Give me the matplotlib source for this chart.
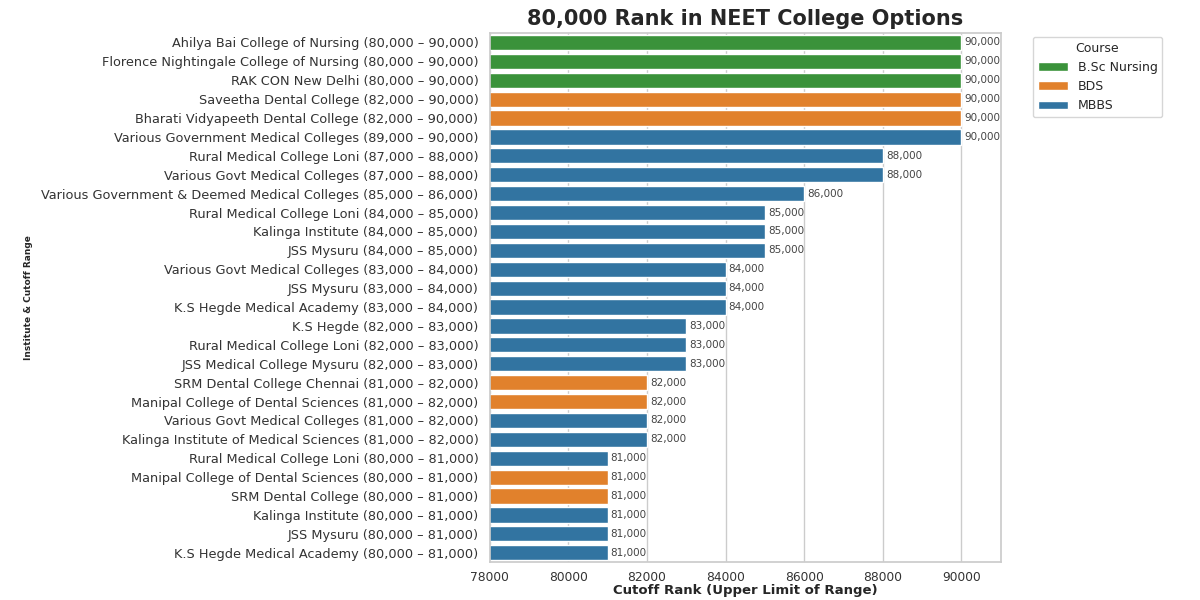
import matplotlib
matplotlib.use("Agg")
import matplotlib.pyplot as plt
import seaborn as sns
import pandas as pd

institutes = [
    "Ahilya Bai College of Nursing (80,000 – 90,000)",
    "Florence Nightingale College of Nursing (80,000 – 90,000)",
    "RAK CON New Delhi (80,000 – 90,000)",
    "Saveetha Dental College (82,000 – 90,000)",
    "Bharati Vidyapeeth Dental College (82,000 – 90,000)",
    "Various Government Medical Colleges (89,000 – 90,000)",
    "Rural Medical College Loni (87,000 – 88,000)",
    "Various Govt Medical Colleges (87,000 – 88,000)",
    "Various Government & Deemed Medical Colleges (85,000 – 86,000)",
    "Rural Medical College Loni (84,000 – 85,000)",
    "Kalinga Institute (84,000 – 85,000)",
    "JSS Mysuru (84,000 – 85,000)",
    "Various Govt Medical Colleges (83,000 – 84,000)",
    "JSS Mysuru (83,000 – 84,000)",
    "K.S Hegde Medical Academy (83,000 – 84,000)",
    "K.S Hegde (82,000 – 83,000)",
    "Rural Medical College Loni (82,000 – 83,000)",
    "JSS Medical College Mysuru (82,000 – 83,000)",
    "SRM Dental College Chennai (81,000 – 82,000)",
    "Manipal College of Dental Sciences (81,000 – 82,000)",
    "Various Govt Medical Colleges (81,000 – 82,000)",
    "Kalinga Institute of Medical Sciences (81,000 – 82,000)",
    "Rural Medical College Loni (80,000 – 81,000)",
    "Manipal College of Dental Sciences (80,000 – 81,000)",
    "SRM Dental College (80,000 – 81,000)",
    "Kalinga Institute (80,000 – 81,000)",
    "JSS Mysuru (80,000 – 81,000)",
    "K.S Hegde Medical Academy (80,000 – 81,000)",
]
cutoffs = [90000, 90000, 90000, 90000, 90000, 90000, 88000, 88000, 86000,
           85000, 85000, 85000, 84000, 84000, 84000, 83000, 83000, 83000,
           82000, 82000, 82000, 82000, 81000, 81000, 81000, 81000, 81000, 81000]
courses = ["B.Sc Nursing", "B.Sc Nursing", "B.Sc Nursing", "BDS", "BDS", "MBBS",
           "MBBS", "MBBS", "MBBS", "MBBS", "MBBS", "MBBS", "MBBS", "MBBS", "MBBS",
           "MBBS", "MBBS", "MBBS", "BDS", "BDS", "MBBS", "MBBS", "MBBS", "BDS",
           "BDS", "MBBS", "MBBS", "MBBS"]
course_order = ["B.Sc Nursing", "BDS", "MBBS"]
palette = {"B.Sc Nursing": "#2ca02c", "BDS": "#ff7f0e", "MBBS": "#1f77b4"}

df = pd.DataFrame({"Institute": institutes, "Cutoff": cutoffs, "Course": courses})

sns.set_theme(style="whitegrid")
plt.rcParams['font.family'] = ['DejaVu Sans']

fig = plt.figure(figsize=(12, 6), dpi=100)
ax = fig.add_axes([0.408, 0.063, 0.426, 0.882])

sns.barplot(data=df, y="Institute", x="Cutoff", hue="Course", hue_order=course_order,
            palette=palette, dodge=False, ax=ax, width=0.8, saturation=0.75)

for i, v in enumerate(cutoffs):
    ax.text(v + 80, i, f"{v:,}", va="center", ha="left", fontsize=7.5, color="#444444")

ax.set_xlim(78000, 91000)
ax.set_xticks([78000, 80000, 82000, 84000, 86000, 88000, 90000])
ax.tick_params(axis="x", labelsize=8.8, pad=0.5, labelcolor="#333333")
ax.tick_params(axis="y", labelsize=9.3, pad=2, labelcolor="#333333")
ax.set_xlabel("Cutoff Rank (Upper Limit of Range)", fontsize=9.5, fontweight="bold", labelpad=0)
ax.set_ylabel("Institute & Cutoff Range", fontsize=6.5, fontweight="bold")
ax.yaxis.set_label_coords(-0.894, 0.5)
ax.set_title("80,000 Rank in NEET College Options", fontsize=15, fontweight="bold", pad=6)
ax.grid(axis="y", visible=False)

ax.legend(title="Course", loc="upper left", bbox_to_anchor=(1.05, 1.005), fontsize=9,
          title_fontsize=9, frameon=True, handlelength=2.4)

fig.savefig("out.png", dpi=100)
